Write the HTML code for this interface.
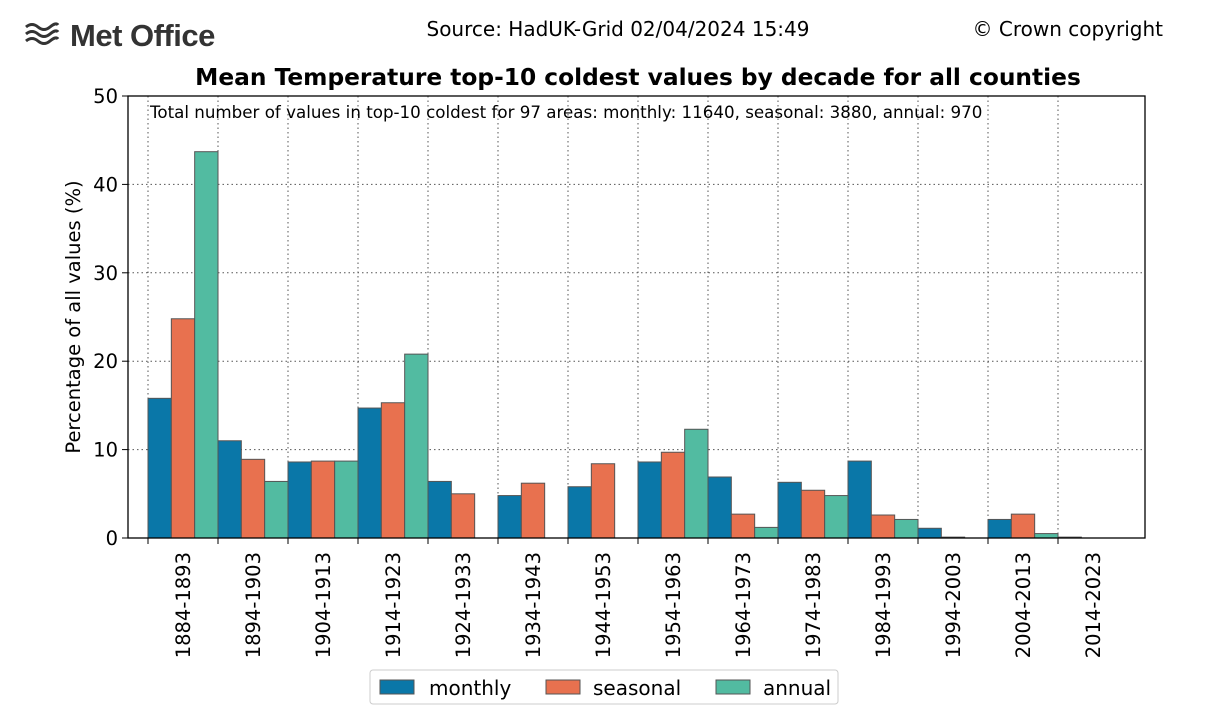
<!DOCTYPE html>
<html><head><meta charset="utf-8"><style>
body{margin:0;background:#fff;}
svg{display:block;font-family:"DejaVu Sans","Liberation Sans",sans-serif;}
</style></head><body>
<svg id="chart" width="1213" height="728" xmlns="http://www.w3.org/2000/svg">
<g>
<g stroke="#333" stroke-width="3" fill="none">
<path d="M26 27 q6 -5 12 0 t12 0 t8 -2"/><path d="M26 34 q6 -5 12 0 t12 0 t8 -2"/><path d="M26 41 q6 -5 12 0 t12 0 t8 -2"/>
</g>
<text x="70" y="46" font-family="Liberation Sans, sans-serif" font-weight="bold" font-size="31" fill="#333" letter-spacing="-0.5">Met Office</text>
</g>
<text x="618" y="36" font-size="20" text-anchor="middle">Source: HadUK-Grid 02/04/2024 15:49</text>
<text x="1163" y="36" font-size="20" text-anchor="end">© Crown copyright</text>
<text x="638" y="85" font-size="23.3" font-weight="bold" text-anchor="middle">Mean Temperature top-10 coldest values by decade for all counties</text>
<g id="plot"></g>
<text x="150" y="118" font-size="16.7">Total number of values in top-10 coldest for 97 areas: monthly: 11640, seasonal: 3880, annual: 970</text>
<text transform="translate(80,317) rotate(-90)" font-size="19.5" text-anchor="middle">Percentage of all values (%)</text>
<g>
<rect x="370" y="670" width="468" height="34" rx="3" fill="#fff" stroke="#ccc"/>
<g><rect x="380" y="680" width="34" height="14" fill="#0a77a8" stroke="#555"/><text x="429" y="695" font-size="20">monthly</text></g>
<g><rect x="546" y="680" width="34" height="14" fill="#e8714f" stroke="#555"/><text x="593" y="695" font-size="20">seasonal</text></g>
<g><rect x="716" y="680" width="34" height="14" fill="#52bba1" stroke="#555"/><text x="763" y="695" font-size="20">annual</text></g>
</g>
</svg>
<script>
const categories=["1884-1893","1894-1903","1904-1913","1914-1923","1924-1933","1934-1943","1944-1953","1954-1963","1964-1973","1974-1983","1984-1993","1994-2003","2004-2013","2014-2023"];
const monthly=[15.8,11.0,8.6,14.7,6.4,4.8,5.8,8.6,6.9,6.3,8.7,1.1,2.1,0.1];
const seasonal=[24.8,8.9,8.7,15.3,5.0,6.2,8.4,9.7,2.7,5.4,2.6,0.1,2.7,0.0];
const annual=[43.7,6.4,8.7,20.8,0.0,0.0,0.0,12.3,1.2,4.8,2.1,0.0,0.5,0.0];
const yTicks=[0,10,20,30,40,50];
const NS="http://www.w3.org/2000/svg";
const L=128,R=1145,T=96,B=538,X0=148,GW=70,BW=GW/3;
const y=v=>B-(v/50)*(B-T);
const x=i=>X0+i*GW;
const g=document.getElementById('plot');
function mk(t,a){const e=document.createElementNS(NS,t);for(const k in a)e.setAttribute(k,a[k]);g.appendChild(e);return e;}
yTicks.forEach(v=>{
 if(v>0&&v<50){const l=mk('line',{x1:L,x2:R,y1:y(v),y2:y(v),stroke:'#555','stroke-dasharray':'1.5,3','stroke-width':1});
 
 }
 const tk=mk('line',{x1:L-6,x2:L,y1:y(v),y2:y(v),stroke:'#000'});
 
 
 const t=mk('text',{x:L-10,y:y(v)+7,'font-size':19.5,'text-anchor':'end'});t.textContent=v;
 
 
});
categories.forEach((c,i)=>{
 const gl=mk('line',{x1:x(i),x2:x(i),y1:T,y2:B,stroke:'#555','stroke-dasharray':'1.5,3','stroke-width':1});
 
 
});
const series=[[monthly,'#0a77a8','monthly'],[seasonal,'#e8714f','seasonal'],[annual,'#52bba1','annual']];
categories.forEach((c,i)=>{
 series.forEach(([arr,col,nm],j)=>{
  const v=arr[i];
  const r=mk('rect',{x:x(i)+j*BW,y:y(v),width:BW,height:B-y(v),fill:col,stroke:'#555','stroke-width':1});
  
  
 });
 const tk=mk('line',{x1:x(i),x2:x(i),y1:B,y2:B+6,stroke:'#000'});
 
 
 const t=mk('text',{transform:`translate(${x(i)+GW/2+7},552) rotate(-90)`,'font-size':19.5,'text-anchor':'end'});t.textContent=c;
 
 
});
const f=mk('rect',{x:L,y:T,width:R-L,height:B-T,fill:'none',stroke:'#000','stroke-width':1.3});


</script>
</body></html>
